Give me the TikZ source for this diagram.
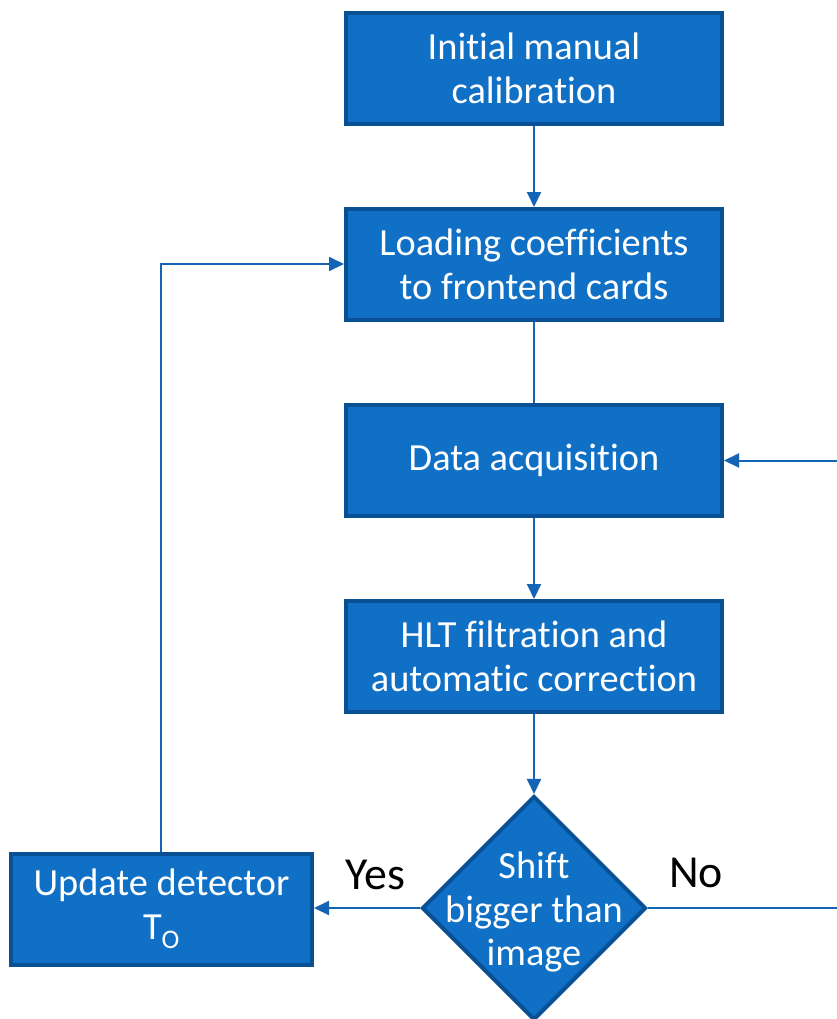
\documentclass[tikz,border=0pt]{standalone}
\usepackage{fontspec}
\setmainfont{Carlito}[Ligatures={NoCommon}]
\usetikzlibrary{shapes.geometric,arrows.meta}
\definecolor{boxfill}{RGB}{16,112,198}
\definecolor{boxedge}{RGB}{10,80,148}
\definecolor{flow}{RGB}{20,100,182}
\tikzset{
  stepbox/.style={rectangle, fill=boxfill, draw=boxedge, line width=4bp,
    minimum width=376bp, minimum height=111bp, inner sep=0pt,
    text=white, align=center,
    font=\fontsize{38.5}{44.5}\selectfont},
  sidebox/.style={stepbox, minimum width=301bp},
  decision/.style={diamond, fill=boxfill, draw=boxedge, line width=4bp,
    minimum width=224bp, minimum height=224bp, inner sep=0pt},
  dtext/.style={text=white, align=center, font=\fontsize{38.5}{44}\selectfont},
  flowline/.style={draw=flow, line width=2bp},
  flowarrow/.style={flowline, -{Triangle[length=15bp,width=14bp]}},
  answer/.style={text=black, font=\fontsize{46}{50}\selectfont}
}
\begin{document}
\begin{tikzpicture}[x=1bp,y=-1bp]
\useasboundingbox (0,0) rectangle (837,1019);

\node[stepbox] (calib) at (534,68.5) {Initial manual\\calibration};
\node[stepbox] (load)  at (534,264.5) {Loading coefficients\\to frontend cards};
\node[stepbox] (daq)   at (534,460.5) {Data acquisition};
\node[stepbox] (hlt)   at (534,656.5) {HLT filtration and\\automatic correction};
\node[decision, label={[dtext, yshift=-4bp]center:Shift\\bigger than\\image}] (shift) at (534,908) {};
\node[sidebox] (upd) at (161.5,909) {Update detector\\T\textsubscript{O}};

\node[answer] (yes) at (375,875) {Yes};
\node[answer] (no)  at (696,873) {No};

\coordinate (upcorner) at (161,264);
\coordinate (nocorner) at (850,908);
\coordinate (backcorner) at (850,460.5);

\draw[flowarrow] (calib) -- (load);
\draw[flowline]  (load) -- (daq);
\draw[flowarrow] (daq) -- (hlt);
\draw[flowarrow] (hlt) -- (shift);
\draw[flowarrow] (shift.west) -- (shift.west -| upd.east);
\draw[flowarrow] (upd.north -| upcorner) -- (upcorner) -- (load.west |- upcorner);
\draw[flowarrow] (shift.east) -- (nocorner) -- (backcorner) -- (daq.east);
\end{tikzpicture}
\end{document}
